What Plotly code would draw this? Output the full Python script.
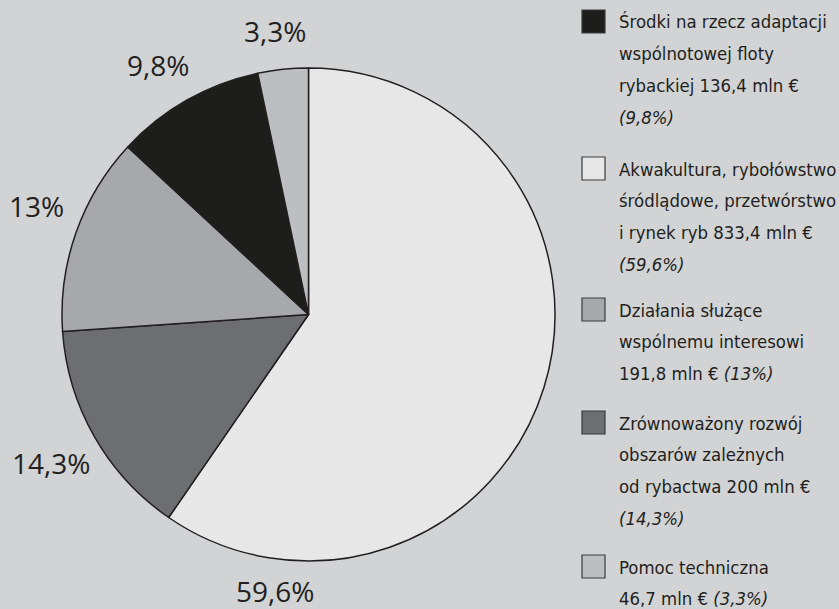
import plotly.graph_objects as go

W, H = 839, 609

# ---- data (pie order, clockwise from 12 o'clock) ----
categories = [
    "Akwakultura, rybołówstwo śródlądowe, przetwórstwo i rynek ryb",
    "Zrównoważony rozwój obszarów zależnych od rybactwa",
    "Działania służące wspólnemu interesowi",
    "Środki na rzecz adaptacji wspólnotowej floty rybackiej",
    "Pomoc techniczna",
]
shares = [59.6, 14.3, 13.0, 9.8, 3.3]
amounts = ["833,4", "200", "191,8", "136,4", "46,7"]
share_labels = ["59,6%", "14,3%", "13%", "9,8%", "3,3%"]
colors = ["#e6e7e6", "#6d6e71", "#a6a8ab", "#1d1e1c", "#bcbec1"]

# legend: order of items and text lines ({a}=amount, {p}=share label)
legend_order = [3, 0, 2, 1, 4]
legend_lines = {
    3: ["Środki na rzecz adaptacji", "wspólnotowej floty", "rybackiej {a} mln €", "<i>({p})</i>"],
    0: ["Akwakultura, rybołówstwo", "śródlądowe, przetwórstwo", "i rynek ryb {a} mln €", "<i>({p})</i>"],
    2: ["Działania służące", "wspólnemu interesowi", "{a} mln € <i>({p})</i>"],
    1: ["Zrównoważony rozwój", "obszarów zależnych", "od rybactwa {a} mln €", "<i>({p})</i>"],
    4: ["Pomoc techniczna", "{a} mln € <i>({p})</i>"],
}

# ---- layout constants (pixels) ----
BG = "#d1d3d4"
TXT = "#231f20"
cx, cy, R = 308.5, 314.5, 246.5
label_pos = [(275, 591), (51, 463), (36, 206), (158, 65), (275, 31)]
legend_square_top = [10, 157, 298, 411, 555]
sq_x0, sq_size = 582, 23
text_x = 617
line_h = 31.7
first_line_offset = 12
LEG_FONT = "Liberation Sans Narrow, DejaVu Sans Condensed, sans-serif"

def px(x):
    return x / W

def py(y):
    return 1 - y / H

fig = go.Figure(
    go.Pie(
        labels=categories,
        values=shares,
        sort=False,
        direction="clockwise",
        rotation=0,
        marker=dict(colors=colors, line=dict(color=TXT, width=1.5)),
        textinfo="none",
        hoverinfo="label+percent",
        showlegend=False,
        domain=dict(x=[px(cx - R), px(cx + R)], y=[py(cy + R), py(cy - R)]),
    )
)

annotations = []
for (x, y), t in zip(label_pos, share_labels):
    annotations.append(dict(
        x=px(x), y=py(y), xref="paper", yref="paper", text=t, showarrow=False,
        xanchor="center", yanchor="middle",
        font=dict(family="Open Sans", size=28, color=TXT),
    ))

shapes = []
for top, idx in zip(legend_square_top, legend_order):
    shapes.append(dict(
        type="rect", xref="paper", yref="paper",
        x0=px(sq_x0), x1=px(sq_x0 + sq_size), y0=py(top + sq_size), y1=py(top),
        fillcolor=colors[idx], line=dict(color="#3a3a3a", width=1.2),
    ))
    for k, line in enumerate(legend_lines[idx]):
        txt = line.format(a=amounts[idx], p=share_labels[idx])
        annotations.append(dict(
            x=px(text_x), y=py(top + first_line_offset + k * line_h),
            xref="paper", yref="paper", text=txt, showarrow=False,
            xanchor="left", yanchor="middle",
            font=dict(family=LEG_FONT, size=18.4, color=TXT),
        ))

fig.update_layout(
    width=W, height=H,
    margin=dict(l=0, r=0, t=0, b=0),
    paper_bgcolor=BG, plot_bgcolor=BG,
    annotations=annotations, shapes=shapes,
)

fig.write_html(
    "out.html",
    config={"displayModeBar": False},
    post_script="document.body.style.margin='0px';document.body.style.overflow='hidden';",
)
